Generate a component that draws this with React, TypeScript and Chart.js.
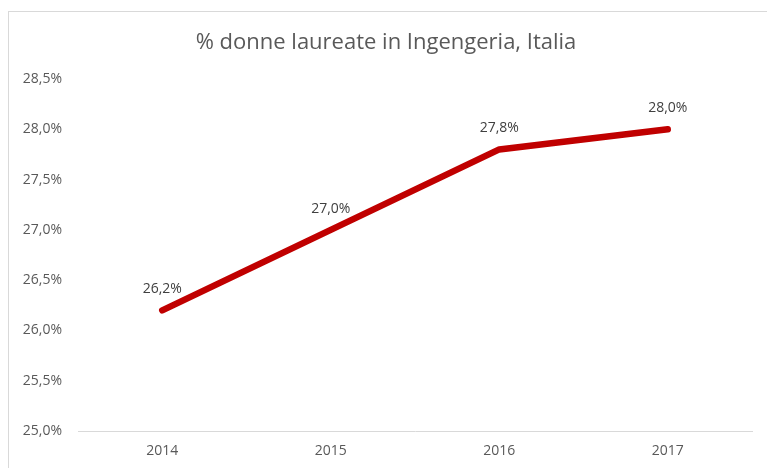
import React, { useEffect, useRef } from "react";
import { Chart, registerables } from "chart.js";

Chart.register(...registerables);

const years = ["2014", "2015", "2016", "2017"];
const sharePct = [26.2, 27.0, 27.8, 28.0];
const yMin = 25;
const yMax = 28.5;
const yStep = 0.5;
const titleText = "% donne laureate in Ingengeria, Italia";

const fmt = (v: number) => v.toFixed(1).replace(".", ",") + "%";

const labelPlugin = {
  id: "pointLabels",
  afterDatasetsDraw(chart: any) {
    const ctx = chart.ctx;
    const meta = chart.getDatasetMeta(0);
    ctx.save();
    ctx.font = "14px 'Open Sans'";
    ctx.fillStyle = "#404040";
    ctx.textAlign = "center";
    ctx.textBaseline = "middle";
    meta.data.forEach((pt: any, i: number) => {
      ctx.fillText(fmt(sharePct[i]), pt.x, pt.y - 21);
    });
    ctx.restore();
  },
};

export default function App() {
  const ref = useRef<HTMLCanvasElement>(null);
  useEffect(() => {
    if (!ref.current) return;
    const chart = new Chart(ref.current, {
      type: "line",
      data: {
        labels: years,
        datasets: [
          {
            data: sharePct,
            borderColor: "#C00000",
            borderWidth: 6.5,
            borderCapStyle: "round",
            borderJoinStyle: "round",
            pointRadius: 0,
            pointHoverRadius: 0,
            tension: 0,
            fill: false,
          },
        ],
      },
      options: {
        responsive: false,
        animation: false,
        events: [],
        layout: { padding: { left: 0, right: 0, top: 0, bottom: 31 } },
        plugins: {
          legend: { display: false },
          tooltip: { enabled: false },
          title: {
            display: true,
            text: titleText,
            color: "#595959",
            font: { family: "'Open Sans'", size: 22, weight: "normal", lineHeight: 1.2 },
            padding: { top: 18, bottom: 22.6 },
          },
        },
        scales: {
          x: {
            offset: true,
            grid: { display: false, drawTicks: false },
            border: { display: true, color: "#d9d9d9", width: 1 },
            ticks: {
              color: "#595959",
              font: { family: "'Open Sans'", size: 14 },
              padding: 12,
            },
            afterFit: (s: any) => {
              s.height = 30;
            },
          },
          y: {
            min: yMin,
            max: yMax,
            grid: { display: false, drawTicks: false },
            border: { display: false },
            ticks: {
              stepSize: yStep,
              color: "#595959",
              font: { family: "'Open Sans'", size: 14 },
              padding: 16,
              callback: (v: any) => fmt(Number(v)),
            },
            afterFit: (s: any) => {
              s.width = 69;
            },
          },
          yRight: {
            position: "right",
            display: true,
            grid: { display: false, drawTicks: false },
            border: { display: false },
            ticks: { display: false },
            afterFit: (s: any) => {
              s.width = 11;
            },
          },
        },
      },
      plugins: [labelPlugin],
    });
    return () => chart.destroy();
  }, []);

  return (
    <div
      style={{
        position: "fixed",
        left: 8,
        top: 11,
        width: 790,
        height: 480,
        border: "1px solid #d9d9d9",
        background: "#fff",
      }}
    >
      <canvas ref={ref} width={754} height={480} style={{ display: "block" }} />
    </div>
  );
}
